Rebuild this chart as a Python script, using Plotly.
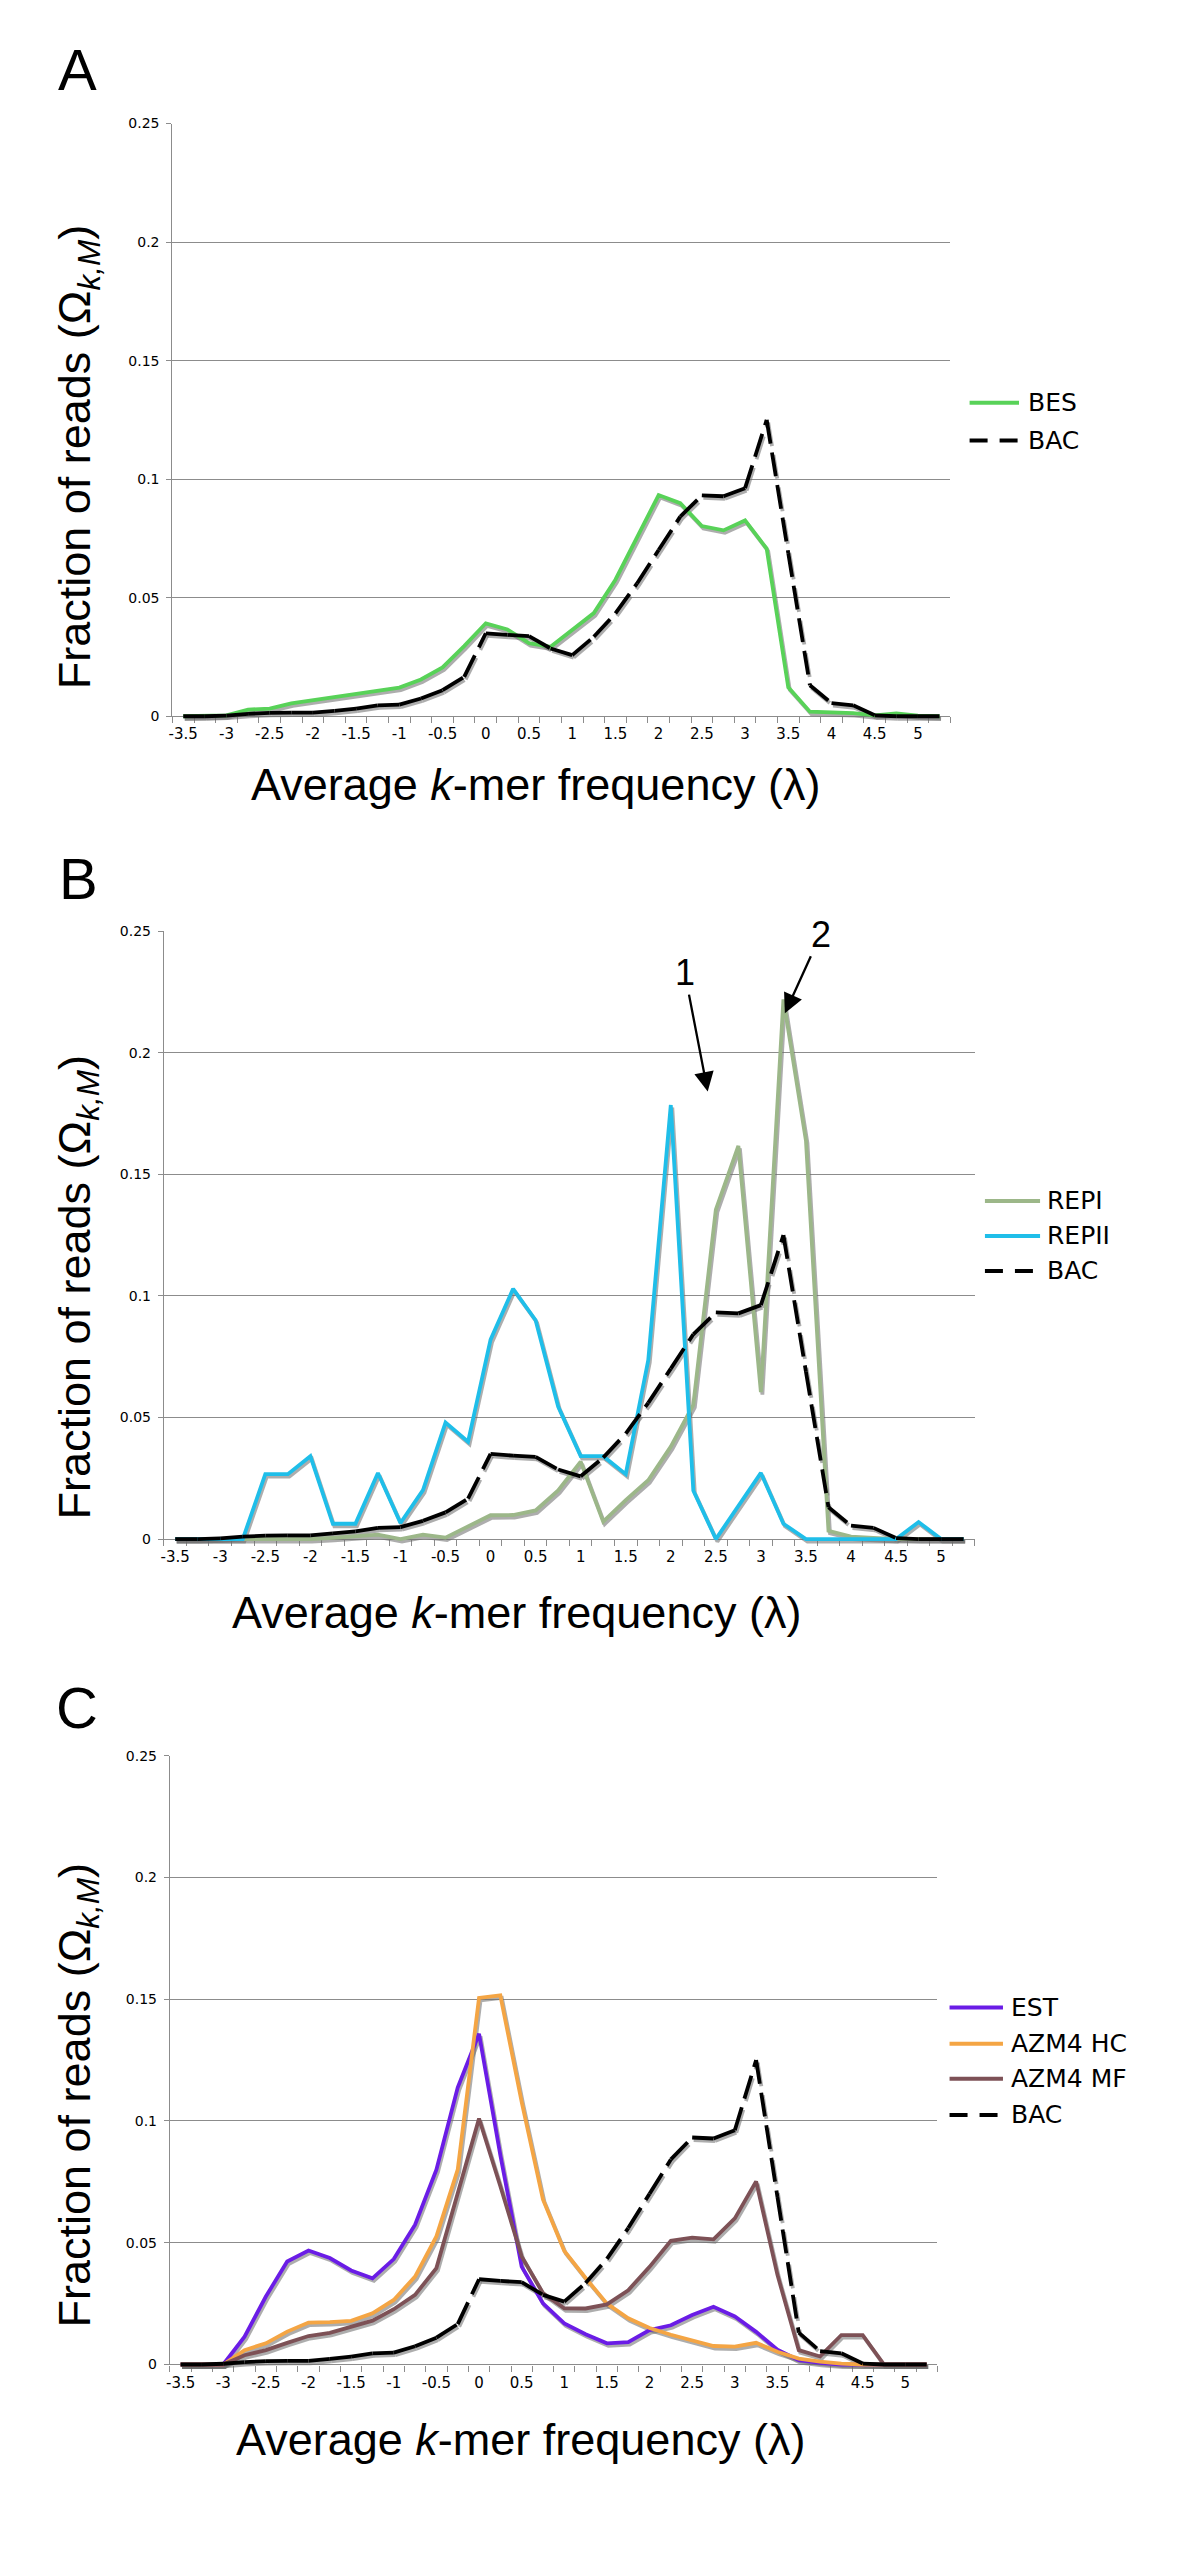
import plotly.graph_objects as go

# Page is 1200x2552; the HTML body has an 8px default margin. The figure is made
# a little smaller than the page so that nothing overflows. Page-pixel positions
# are converted with the 8px offset and a small correction for the capture scale.
PAGE_W, PAGE_H = 1200, 2552
BODY = 8
W, H = PAGE_W - 2 * BODY, PAGE_H - 2 * BODY - 24
CAP_S = 0.9942          # observed uniform scale of the captured page
CX, CY = 600.0, 1276.0  # ... around the page centre

# ---------------- data ----------------
lam = [-3.5, -3.25, -3.0, -2.75, -2.5, -2.25, -2.0, -1.75, -1.5, -1.25, -1.0, -0.75,
       -0.5, -0.25, 0.0, 0.25, 0.5, 0.75, 1.0, 1.25, 1.5, 1.75, 2.0, 2.25,
       2.5, 2.75, 3.0, 3.25, 3.5, 3.75, 4.0, 4.25, 4.5, 4.75, 5.0, 5.25]

bac = [0, 0, 0.0003, 0.0010, 0.0014, 0.0015, 0.0015, 0.0023, 0.0032, 0.0046, 0.0049, 0.0075,
       0.0110, 0.0166, 0.0350, 0.0343, 0.0338, 0.0286, 0.0258, 0.0335, 0.0434, 0.0560, 0.0701, 0.0842,
       0.0932, 0.0928, 0.0962, 0.1250, 0.0688, 0.0131, 0.0055, 0.0046, 0.0004, 0, 0, 0]

bes = [0, 0, 0.0004, 0.0028, 0.0032, 0.0054, 0.0068, 0.0079, 0.0096, 0.0106, 0.0121, 0.0155,
       0.0206, 0.0296, 0.0392, 0.0366, 0.0308, 0.0293, 0.0365, 0.0435, 0.0576, 0.0757, 0.0933, 0.0899,
       0.0802, 0.0784, 0.0826, 0.0707, 0.0122, 0.0019, 0.0016, 0.0013, 0.0004, 0.0012, 0.0003, 0]

repi = [0, 0, 0, 0, 0, 0, 0, 0.0005, 0.0010, 0.0018, 0, 0.0018,
        0.0006, 0.0050, 0.0098, 0.0099, 0.0118, 0.0200, 0.0318, 0.0072, 0.0160, 0.0242, 0.0380, 0.0552,
        0.1355, 0.1617, 0.0604, 0.2219, 0.1638, 0.0034, 0.0010, 0.0005, 0, 0, 0, 0]

repii = [0, 0, 0, 0, 0.0267, 0.0267, 0.0341, 0.0063, 0.0063, 0.0272, 0.0066, 0.0201,
         0.0479, 0.0400, 0.0820, 0.1029, 0.0900, 0.0545, 0.0341, 0.0341, 0.0267, 0.0736, 0.1785, 0.0200,
         0, 0.0136, 0.0272, 0.0063, 0, 0, 0, 0, 0, 0.0070, 0, 0]

est = [0, 0, 0, 0.0114, 0.0279, 0.0423, 0.0468, 0.0437, 0.0386, 0.0354, 0.0433, 0.0574,
       0.0800, 0.1137, 0.1358, 0.0860, 0.0402, 0.0251, 0.0169, 0.0124, 0.0087, 0.0092, 0.0141, 0.0161,
       0.0203, 0.0237, 0.0197, 0.0134, 0.0061, 0.0018, 0.0007, 0, 0, 0, 0, 0]

azm4_hc = [0, 0, 0, 0.0059, 0.0087, 0.0135, 0.0172, 0.0174, 0.0179, 0.0210, 0.0265, 0.0361,
           0.0526, 0.0800, 0.1505, 0.1516, 0.1078, 0.0678, 0.0466, 0.0355, 0.0250, 0.0190, 0.0150, 0.0122,
           0.0097, 0.0076, 0.0073, 0.0089, 0.0052, 0.0024, 0.0012, 0.0004, 0, 0, 0, 0]

azm4_mf = [0, 0, 0, 0.0038, 0.0059, 0.0089, 0.0117, 0.0130, 0.0155, 0.0180, 0.0227, 0.0286,
           0.0396, 0.0705, 0.1010, 0.0732, 0.0444, 0.0293, 0.0231, 0.0230, 0.0247, 0.0305, 0.0401, 0.0508,
           0.0521, 0.0514, 0.0600, 0.0752, 0.0368, 0.0059, 0.0033, 0.0121, 0.0121, 0, 0, 0]

x_tick_vals = [-3.5, -3.0, -2.5, -2.0, -1.5, -1.0, -0.5, 0.0, 0.5, 1.0, 1.5, 2.0, 2.5, 3.0, 3.5, 4.0, 4.5, 5.0]
x_tick_text = ["-3.5", "-3", "-2.5", "-2", "-1.5", "-1", "-0.5", "0", "0.5", "1", "1.5", "2",
               "2.5", "3", "3.5", "4", "4.5", "5"]
y_tick_vals = [0, 0.05, 0.1, 0.15, 0.2, 0.25]
y_tick_text = ["0", "0.05", "0.1", "0.15", "0.2", "0.25"]

X_RANGE = [-3.625, 5.375]
Y_MAX = 0.25

# ---------------- styling ----------------
GRID = "#8c8c8c"
SHADOW = "rgba(105,105,105,0.55)"
LW = 3.8
BAC_DASH = "24px,9px"
SDX, SDY = 1.5, 2.5
PAD = 12
TICK_FONT = "DejaVu Sans, Verdana, sans-serif"
TITLE_FONT = "Liberation Sans, Arial, sans-serif"

panels = [
    dict(letter="A", box=(171.5, 947.5, 123.0, 716.0),
         series=[("BES", bes, "#58D258")],
         leg_line=(966.7, 1016.0), leg_text_x=1023.3, leg_rows=[402.3, 440.0],
         letter_xy=(77.0, 69.0), ytitle_xy=(76.5, 456.7), xtitle_xy=(533.8, 784.7)),
    dict(letter="B", box=(163.0, 972.0, 931.0, 1539.3),
         series=[("REPI", repi, "#9CB789"), ("REPII", repii, "#1FBEE9")],
         leg_line=(982.0, 1037.0), leg_text_x=1042.3, leg_rows=[1201.0, 1236.0, 1271.0],
         letter_xy=(77.7, 878.0), ytitle_xy=(76.5, 1287.4), xtitle_xy=(514.7, 1612.7)),
    dict(letter="C", box=(169.0, 934.5, 1756.0, 2365.2),
         series=[("EST", est, "#6A1CE6"), ("AZM4 HC", azm4_hc, "#F4A544"),
                 ("AZM4 MF", azm4_mf, "#7D5156")],
         leg_line=(946.7, 1000.0), leg_text_x=1006.4, leg_rows=[2008.0, 2044.3, 2079.3, 2115.5],
         letter_xy=(76.5, 1708.0), ytitle_xy=(76.5, 2095.8), xtitle_xy=(518.5, 2440.6)),
]


def fx(px):
    px = CX + (px - CX) / CAP_S
    return (px - BODY) / W


def fy(py):
    py = CY + (py - CY) / CAP_S
    return 1 - (py - BODY) / H


def aname(letter, i):
    return f"{letter}axis" if i == 1 else f"{letter}axis{i}"


def aref(letter, i):
    return letter if i == 1 else f"{letter}{i}"


fig = go.Figure()
layout = dict(width=W, height=H, autosize=False, margin=dict(l=0, r=0, t=0, b=0),
              paper_bgcolor="white", plot_bgcolor="rgba(0,0,0,0)", showlegend=False,
              annotations=[], shapes=[])

for k, p in enumerate(panels):
    gid, sid, mid = 3 * k + 1, 3 * k + 2, 3 * k + 3
    left, right, top, bottom = p["box"]
    ppu = (bottom - top) / Y_MAX

    # grid/axes subplot
    layout[aname("x", gid)] = dict(
        domain=[fx(left), fx(right)], range=X_RANGE, anchor=aref("y", gid), type="linear",
        tickmode="array", tickvals=x_tick_vals, ticktext=x_tick_text, ticks="",
        ticklabelstandoff=4, tickfont=dict(family=TICK_FONT, size=15, color="black"),
        showgrid=False, zeroline=False, showline=True, linecolor=GRID, linewidth=1.3,
        minor=dict(tickmode="linear", tick0=-3.625, dtick=0.25, ticks="outside", ticklen=6,
                   tickcolor=GRID, tickwidth=1.2, showgrid=False),
        fixedrange=True)
    layout[aname("y", gid)] = dict(
        domain=[fy(bottom), fy(top)], range=[0, Y_MAX], anchor=aref("x", gid),
        tickmode="array", tickvals=y_tick_vals, ticktext=y_tick_text, ticks="outside",
        ticklen=5, tickcolor=GRID, tickwidth=1.2, ticklabelstandoff=4,
        tickfont=dict(family=TICK_FONT, size=14, color="black"),
        showgrid=True, gridcolor=GRID, gridwidth=1.2, zeroline=False,
        showline=True, linecolor=GRID, linewidth=1.3, fixedrange=True)
    # shadow subplot (offset a couple of pixels)
    layout[aname("x", sid)] = dict(domain=[fx(left + SDX), fx(right + SDX)], range=X_RANGE,
                                   anchor=aref("y", sid), visible=False, fixedrange=True)
    layout[aname("y", sid)] = dict(domain=[fy(bottom + PAD + SDY), fy(top + SDY)],
                                   range=[-PAD / ppu, Y_MAX], anchor=aref("x", sid),
                                   visible=False, fixedrange=True)
    # main data subplot
    layout[aname("x", mid)] = dict(domain=[fx(left), fx(right)], range=X_RANGE,
                                   anchor=aref("y", mid), visible=False, fixedrange=True)
    layout[aname("y", mid)] = dict(domain=[fy(bottom + PAD), fy(top)],
                                   range=[-PAD / ppu, Y_MAX], anchor=aref("x", mid),
                                   visible=False, fixedrange=True)

    fig.add_trace(go.Scatter(x=[], y=[], xaxis=aref("x", gid), yaxis=aref("y", gid),
                             showlegend=False, hoverinfo="skip"))

    legend_items = []
    for name, vals, color in p["series"]:
        fig.add_trace(go.Scatter(x=lam, y=vals, mode="lines", xaxis=aref("x", sid),
                                 yaxis=aref("y", sid), line=dict(color=SHADOW, width=LW),
                                 showlegend=False, hoverinfo="skip"))
        fig.add_trace(go.Scatter(x=lam, y=vals, mode="lines", name=name,
                                 xaxis=aref("x", mid), yaxis=aref("y", mid),
                                 line=dict(color=color, width=LW), showlegend=False))
        legend_items.append((name, color, "solid"))
    # BAC dashed: the dash pattern restarts on every segment (as in the original)
    for j in range(len(lam) - 1):
        fig.add_trace(go.Scatter(x=lam[j:j + 2], y=bac[j:j + 2], mode="lines",
                                 xaxis=aref("x", sid), yaxis=aref("y", sid),
                                 line=dict(color=SHADOW, width=LW, dash=BAC_DASH),
                                 showlegend=False, hoverinfo="skip"))
    for j in range(len(lam) - 1):
        fig.add_trace(go.Scatter(x=lam[j:j + 2], y=bac[j:j + 2], mode="lines", name="BAC",
                                 xaxis=aref("x", mid), yaxis=aref("y", mid),
                                 line=dict(color="black", width=LW, dash=BAC_DASH),
                                 showlegend=False))
    legend_items.append(("BAC", "black", "18px,12px"))

    # legend (line sample + label), placed like the original
    lx0, lx1 = p["leg_line"]
    for (name, color, dash), ry in zip(legend_items, p["leg_rows"]):
        layout["shapes"].append(dict(type="line", xref="paper", yref="paper",
                                     x0=fx(lx0), x1=fx(lx1), y0=fy(ry), y1=fy(ry),
                                     line=dict(color=color, width=4, dash=dash)))
        layout["annotations"].append(dict(
            text=name, x=fx(p["leg_text_x"]), y=fy(ry), xref="paper", yref="paper",
            xanchor="left", yanchor="middle", showarrow=False,
            font=dict(family=TICK_FONT, size=25, color="black")))

    ax_, ay_ = p["letter_xy"]
    layout["annotations"].append(dict(
        text=p["letter"], x=fx(ax_), y=fy(ay_), xref="paper", yref="paper",
        xanchor="center", yanchor="middle", showarrow=False,
        font=dict(family=TITLE_FONT, size=58, color="black")))
    tx, ty = p["ytitle_xy"]
    layout["annotations"].append(dict(
        text="Fraction of reads (Ω<sub><i>k,M</i></sub>)", x=fx(tx), y=fy(ty),
        xref="paper", yref="paper", xanchor="center", yanchor="middle", textangle=-90,
        showarrow=False, font=dict(family=TITLE_FONT, size=45, color="black")))
    tx, ty = p["xtitle_xy"]
    layout["annotations"].append(dict(
        text="Average <i>k</i>-mer frequency (λ)", x=fx(tx), y=fy(ty),
        xref="paper", yref="paper", xanchor="center", yanchor="middle",
        showarrow=False, font=dict(family=TITLE_FONT, size=45, color="black")))

# arrows "1" and "2" in panel B (tip in data units, label offset in pixels)
arrow_font = dict(family=TITLE_FONT, size=36, color="black")
layout["annotations"] += [
    dict(text="1", x=2.41, y=0.184, xref="x4", yref="y4", showarrow=True, arrowhead=2,
         arrowsize=1.7, arrowwidth=2.3, arrowcolor="black", ax=-23, ay=-119, standoff=0,
         font=arrow_font),
    dict(text="2", x=3.266, y=0.2162, xref="x4", yref="y4", showarrow=True, arrowhead=2,
         arrowsize=1.7, arrowwidth=2.3, arrowcolor="black", ax=36, ay=-79, standoff=0,
         font=arrow_font),
]

fig.update_layout(**layout)
fig.write_html("out.html")
